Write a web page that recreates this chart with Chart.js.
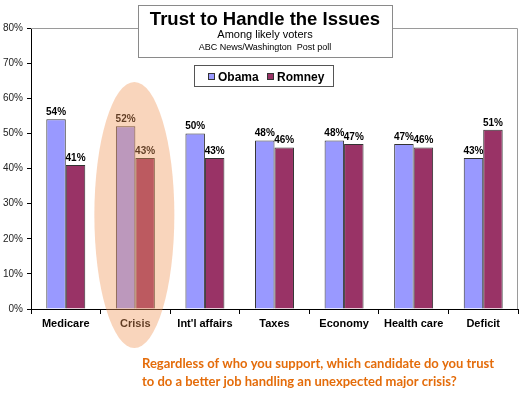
<!DOCTYPE html>
<html>
<head>
<meta charset="utf-8">
<script src="https://cdn.jsdelivr.net/npm/chart.js@4.4.0/dist/chart.umd.min.js"></script>
<style>
  html, body { margin: 0; padding: 0; background: #fff; }
</style>
</head>
<body>
<canvas id="trustChart" width="522" height="395"></canvas>
<script>
// chart data
const issues = ['Medicare', 'Crisis', "Int'l affairs", 'Taxes', 'Economy', 'Health care', 'Deficit'];
const seriesNames = ['Obama', 'Romney'];
const obamaValues = [54, 52, 50, 48, 48, 47, 43];
const romneyValues = [41, 43, 43, 46, 47, 46, 51];
const yTickValues = [0, 10, 20, 30, 40, 50, 60, 70, 80];
const highlightIssue = 'Crisis';

const titleText = 'Trust to Handle the Issues';
const subtitleText = 'Among likely voters';
const sourceText = 'ABC News/Washington  Post poll';
const questionLines = [
  'Regardless of who you support, which candidate do you trust',
  'to do a better job handling an unexpected major crisis?'
];

const seriesColors = ['#9999FF', '#993366'];
const sans = "'Liberation Sans', Arial, sans-serif";

// draws the gray frame on top/right of the plot area
const plotFrame = {
  id: 'plotFrame',
  beforeDatasetsDraw(chart) {
    const { ctx, chartArea: a } = chart;
    ctx.save();
    ctx.strokeStyle = '#9a9a9a';
    ctx.lineWidth = 1;
    ctx.beginPath();
    ctx.moveTo(a.left, a.top + 0.5);
    ctx.lineTo(a.right - 0.5, a.top + 0.5);
    ctx.lineTo(a.right - 0.5, a.bottom);
    ctx.stroke();
    ctx.restore();
  }
};

// value labels above each bar
const barLabels = {
  id: 'barLabels',
  afterDatasetsDraw(chart) {
    const { ctx } = chart;
    ctx.save();
    ctx.font = 'bold 10px ' + sans;
    ctx.fillStyle = '#000';
    ctx.textAlign = 'center';
    ctx.textBaseline = 'alphabetic';
    chart.data.datasets.forEach((ds, i) => {
      chart.getDatasetMeta(i).data.forEach((bar, j) => {
        ctx.fillText(ds.data[j] + '%', bar.x, bar.y - 4);
      });
    });
    ctx.restore();
  }
};

// title box, legend box, question text and the highlight oval
const decorations = {
  id: 'decorations',
  afterDraw(chart) {
    const { ctx } = chart;
    ctx.save();

    // title box
    ctx.fillStyle = '#fff';
    ctx.fillRect(138, 5, 254, 52);
    ctx.strokeStyle = '#8a8a8a';
    ctx.lineWidth = 1;
    ctx.strokeRect(138.5, 5.5, 254, 52);
    ctx.fillStyle = '#000';
    ctx.textAlign = 'center';
    ctx.font = 'bold 18.5px ' + sans;
    ctx.fillText(titleText, 265, 25);
    ctx.font = '11px ' + sans;
    ctx.fillText(subtitleText, 265, 38);
    ctx.font = '9px ' + sans;
    ctx.fillText(sourceText, 265, 50);

    // legend box
    ctx.fillStyle = '#fff';
    ctx.fillRect(194, 65, 139, 21);
    ctx.strokeStyle = '#555';
    ctx.strokeRect(194.5, 65.5, 139, 21);
    ctx.font = 'bold 12px ' + sans;
    ctx.textAlign = 'left';
    const legendX = [208, 267];
    chart.data.datasets.forEach((ds, i) => {
      ctx.fillStyle = ds.backgroundColor;
      ctx.fillRect(legendX[i], 73, 6, 6);
      ctx.strokeStyle = '#333';
      ctx.strokeRect(legendX[i] + 0.5, 73.5, 6, 6);
      ctx.fillStyle = '#000';
      ctx.fillText(ds.label, legendX[i] + 10, 80.5);
    });

    // question text
    ctx.fillStyle = '#E46C0A';
    ctx.font = "bold 13px Lato, 'Open Sans', sans-serif";
    ctx.fillText(questionLines[0], 142, 368);
    ctx.fillText(questionLines[1], 142, 386);

    // translucent oval over the highlighted category
    const cx = chart.scales.x.getPixelForValue(issues.indexOf(highlightIssue));
    ctx.globalAlpha = 0.4;
    ctx.fillStyle = 'rgb(240,150,88)';
    ctx.beginPath();
    ctx.ellipse(cx - 1, 215, 40, 133, 0, 0, Math.PI * 2);
    ctx.fill();
    ctx.restore();
  }
};

new Chart(document.getElementById('trustChart'), {
  type: 'bar',
  data: {
    labels: issues,
    datasets: [
      { label: seriesNames[0], data: obamaValues, backgroundColor: seriesColors[0], borderColor: '#333', borderWidth: 1 },
      { label: seriesNames[1], data: romneyValues, backgroundColor: seriesColors[1], borderColor: '#333', borderWidth: 1 }
    ]
  },
  options: {
    responsive: false,
    devicePixelRatio: 1,
    animation: false,
    layout: { padding: { left: 0, top: 28, right: 4, bottom: 56 } },
    datasets: { bar: { categoryPercentage: 0.56, barPercentage: 1.0 } },
    plugins: {
      legend: { display: false },
      tooltip: { enabled: false }
    },
    scales: {
      x: {
        afterFit(scale) { scale.height = 30; },
        grid: { drawOnChartArea: false, drawTicks: true, tickLength: 5, color: '#000', offset: true },
        border: { color: '#000', width: 1 },
        ticks: { color: '#000', font: { family: sans, size: 11, weight: 'bold' }, padding: 3 }
      },
      y: {
        min: 0,
        max: 80,
        afterFit(scale) { scale.width = 31; },
        afterBuildTicks(scale) { scale.ticks = yTickValues.map(v => ({ value: v })); },
        grid: { drawOnChartArea: false, drawTicks: true, tickLength: 4, color: '#000' },
        border: { color: '#000', width: 1 },
        ticks: {
          color: '#222',
          font: { family: sans, size: 10 },
          padding: 4,
          callback: v => v + '%'
        }
      }
    }
  },
  plugins: [plotFrame, barLabels, decorations]
});
</script>
</body>
</html>
